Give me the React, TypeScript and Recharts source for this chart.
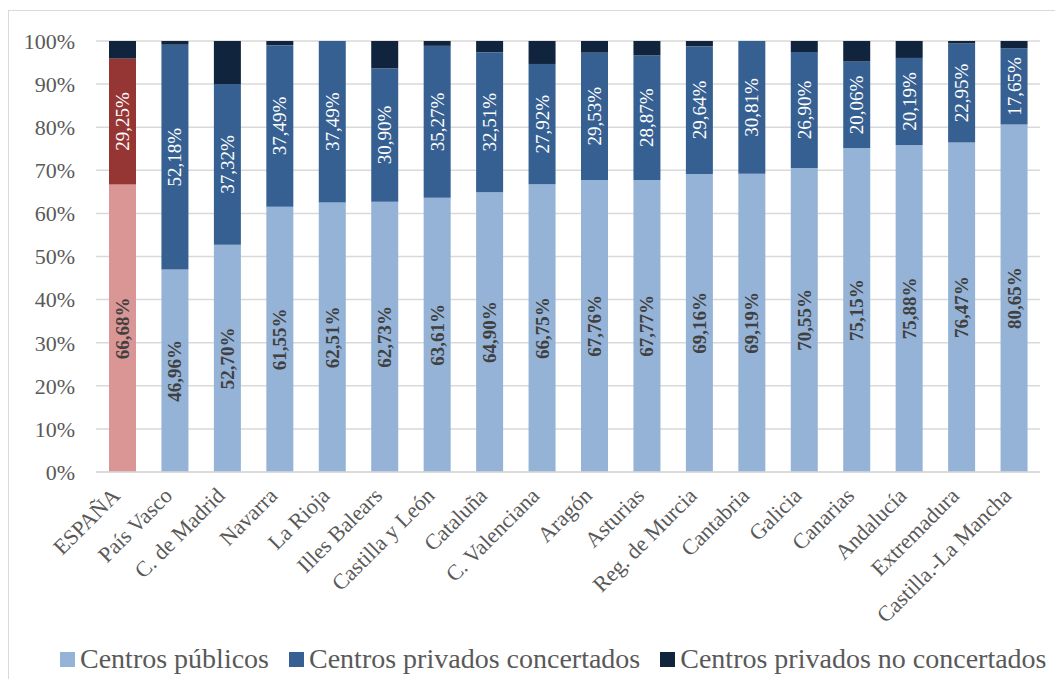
import React from 'react';
import { BarChart, Bar, XAxis, YAxis, CartesianGrid, Cell, LabelList } from 'recharts';

const regions = [
  'ESPAÑA', 'País Vasco', 'C. de Madrid', 'Navarra', 'La Rioja', 'Illes Balears',
  'Castilla y León', 'Cataluña', 'C. Valenciana', 'Aragón', 'Asturias', 'Reg. de Murcia',
  'Cantabria', 'Galicia', 'Canarias', 'Andalucía', 'Extremadura', 'Castilla.-La Mancha',
];
const publicos = [66.68, 46.96, 52.7, 61.55, 62.51, 62.73, 63.61, 64.9, 66.75, 67.76, 67.77, 69.16, 69.19, 70.55, 75.15, 75.88, 76.47, 80.65];
const concertados = [29.25, 52.18, 37.32, 37.49, 37.49, 30.9, 35.27, 32.51, 27.92, 29.53, 28.87, 29.64, 30.81, 26.9, 20.06, 20.19, 22.95, 17.65];
const noConcertados = [4.07, 0.86, 9.98, 0.96, 0, 6.37, 1.12, 2.59, 5.33, 2.71, 3.36, 1.2, 0, 2.55, 4.79, 3.93, 0.58, 1.7];
const yTicks = [0, 10, 20, 30, 40, 50, 60, 70, 80, 90, 100];

const data = regions.map((name, i) => ({
  name,
  publicos: publicos[i],
  concertados: concertados[i],
  noConcertados: noConcertados[i],
}));

const FONT = '"Liberation Serif", "DejaVu Serif", serif';
const C_PUB = '#95b3d7';
const C_CON = '#366092';
const C_NOC = '#10243e';
const C_PUB_ES = '#da9694';
const C_CON_ES = '#963634';

const fmt = (v: number) => `${v.toFixed(2).replace('.', ',')}%`;

function makeLabel(color: string, weight: string | number) {
  return (props: any) => {
    const { x, y, width, height, value } = props;
    const cx = Number(x) + Number(width) / 2;
    const cy = Number(y) + Number(height) / 2;
    return (
      <text
        x={cx}
        y={cy}
        transform={`rotate(-90 ${cx} ${cy})`}
        textAnchor="middle"
        dominantBaseline="central"
        fill={color}
        fontFamily={FONT}
        fontSize={19}
        fontWeight={weight}
      >
        {fmt(Number(value))}
      </text>
    );
  };
}

function XTick(props: any) {
  const { x, y, payload } = props;
  const ax = x - 1;
  const ay = y + 25;
  return (
    <text
      x={ax}
      y={ay}
      transform={`rotate(-45 ${ax} ${ay})`}
      textAnchor="end"
      fill="#595959"
      fontFamily={FONT}
      fontSize={22}
    >
      {payload.value}
    </text>
  );
}

const legendItems = [
  { label: 'Centros públicos', color: C_PUB },
  { label: 'Centros privados concertados', color: C_CON },
  { label: 'Centros privados no concertados', color: C_NOC },
];

export default function App() {
  return (
    <div style={{ position: 'absolute', left: 0, top: 0, width: 1055, height: 679, overflow: 'hidden', background: '#fff' }}>
      <div
        style={{
          position: 'absolute',
          left: 8,
          top: 10,
          width: 1200,
          height: 800,
          border: '1.5px solid #d9d9d9',
          boxSizing: 'border-box',
        }}
      />
      <div style={{ position: 'absolute', left: 0, top: 0 }}>
        <BarChart
          width={1055}
          height={679}
          data={data}
          margin={{ top: 41, right: 15, left: 0, bottom: 57 }}
          barSize={27}
        >
          <CartesianGrid vertical={false} stroke="#d9d9d9" strokeWidth={1.5} />
          <XAxis
            dataKey="name"
            interval={0}
            height={150}
            tickLine={false}
            tickSize={0}
            tickMargin={0}
            axisLine={{ stroke: '#d9d9d9', strokeWidth: 1.5 }}
            tick={<XTick />}
          />
          <YAxis
            width={96}
            domain={[0, 100]}
            ticks={yTicks}
            allowDataOverflow
            axisLine={false}
            tickLine={false}
            tickSize={0}
            tickMargin={21}
            tickFormatter={(v: number) => `${v}%`}
            tick={{ fill: '#595959', fontFamily: FONT, fontSize: 22 }}
          />
          <Bar dataKey="publicos" stackId="a" fill={C_PUB} isAnimationActive={false}>
            {data.map((d, i) => (
              <Cell key={d.name} fill={i === 0 ? C_PUB_ES : C_PUB} />
            ))}
            <LabelList dataKey="publicos" content={makeLabel('#404040', 'bold')} />
          </Bar>
          <Bar dataKey="concertados" stackId="a" fill={C_CON} isAnimationActive={false}>
            {data.map((d, i) => (
              <Cell key={d.name} fill={i === 0 ? C_CON_ES : C_CON} />
            ))}
            <LabelList dataKey="concertados" content={makeLabel('#ffffff', 'normal')} />
          </Bar>
          <Bar dataKey="noConcertados" stackId="a" fill={C_NOC} isAnimationActive={false} />
        </BarChart>
      </div>
      <div
        style={{
          position: 'absolute',
          left: 60,
          top: 643,
          display: 'flex',
          alignItems: 'center',
          whiteSpace: 'nowrap',
          fontFamily: FONT,
          fontSize: 28,
          color: '#595959',
        }}
      >
        {legendItems.map((it) => (
          <div key={it.label} style={{ display: 'flex', alignItems: 'center', marginRight: 20 }}>
            <span style={{ display: 'inline-block', width: 15, height: 15, background: it.color, marginRight: 5 }} />
            <span>{it.label}</span>
          </div>
        ))}
      </div>
    </div>
  );
}
